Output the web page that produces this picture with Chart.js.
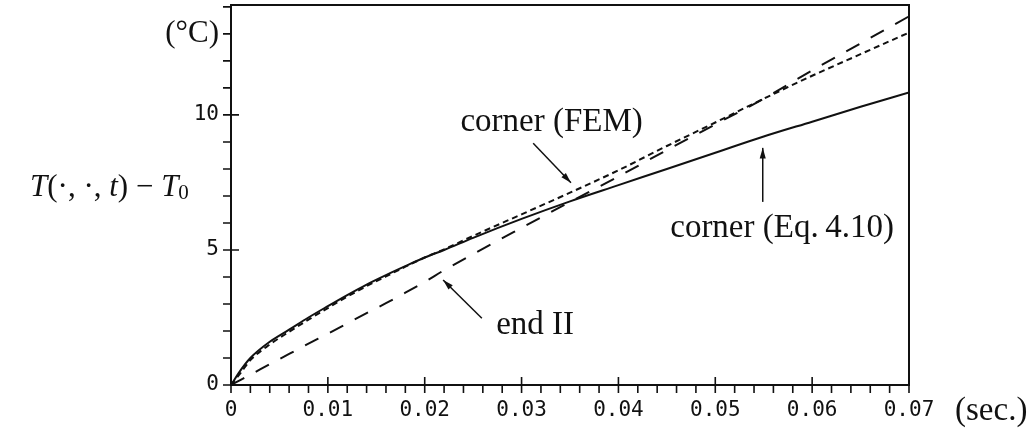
<!DOCTYPE html>
<html>
<head>
<meta charset="utf-8">
<script src="https://cdn.jsdelivr.net/npm/chart.js@4.4.1/dist/chart.umd.min.js"></script>
<style>
  html, body { margin: 0; padding: 0; background: #fff; }
  #wrap { width: 1034px; height: 428px; }
</style>
</head>
<body>
<div id="wrap"><canvas id="grafico"></canvas></div>
<script>
// DATOS (tiempo en segundos, temperatura en °C)
const tiempos = [0, 0.001, 0.002, 0.004, 0.006, 0.008, 0.010, 0.012, 0.014, 0.016, 0.018,
  0.020, 0.022, 0.025, 0.030, 0.035, 0.040, 0.045, 0.050, 0.055, 0.060, 0.065, 0.070];
const cornerEq = [0, 0.55, 1.0, 1.6, 2.05, 2.5, 2.92, 3.33, 3.72, 4.07, 4.4,
  4.72, 5.0, 5.45, 6.15, 6.8, 7.4, 8.0, 8.6, 9.2, 9.75, 10.3, 10.83];
const cornerFEM = [0, 0.45, 0.92, 1.5, 1.97, 2.42, 2.85, 3.27, 3.66, 4.02, 4.38,
  4.72, 5.02, 5.52, 6.32, 7.12, 7.95, 8.85, 9.72, 10.6, 11.45, 12.25, 13.05];
const endII = [0, 0.19, 0.38, 0.77, 1.15, 1.53, 1.9, 2.28, 2.66, 3.03, 3.42,
  3.82, 4.25, 4.85, 5.82, 6.78, 7.72, 8.7, 9.65, 10.6, 11.65, 12.65, 13.65];

// marcas de los ejes
const xMarcas = [0, 0.01, 0.02, 0.03, 0.04, 0.05, 0.06, 0.07];
const yMarcas = [0, 5, 10, 13];
const yUnidad = 13; // la marca 13 lleva la etiqueta "(°C)"

const MONO = "'DejaVu Sans Mono', monospace";
const SERIF = "'Liberation Serif', serif";

/**
 * Etiquetas con flecha, en coordenadas de datos
 */
const notas = [
  { texto: "corner (FEM)", tx: 0.0331, ty: 9.74, x1: 0.0312, y1: 8.95, x2: 0.0351, y2: 7.49 },
  { texto: "corner (Eq.\u20094.10)", tx: 0.0569, ty: 5.81, x1: 0.0549, y1: 6.78, x2: 0.0549, y2: 8.78 },
  { texto: "end II", tx: 0.0314, ty: 2.22, x1: 0.0259, y1: 2.47, x2: 0.0219, y2: 3.89 },
];

function puntos(valores) {
  return tiempos.map((t, i) => ({ x: t, y: valores[i] }));
}

function flecha(ctx, x1, y1, x2, y2) {
  const ang = Math.atan2(y2 - y1, x2 - x1);
  ctx.beginPath();
  ctx.moveTo(x1, y1);
  ctx.lineTo(x2, y2);
  ctx.stroke();
  ctx.beginPath();
  ctx.moveTo(x2, y2);
  ctx.lineTo(x2 - 11 * Math.cos(ang - 0.28), y2 - 11 * Math.sin(ang - 0.28));
  ctx.lineTo(x2 - 11 * Math.cos(ang + 0.28), y2 - 11 * Math.sin(ang + 0.28));
  ctx.closePath();
  ctx.fill();
}

// marco, marcas menores y textos
const marcas = {
  id: "marcas",
  afterDraw(chart) {
    const ctx = chart.ctx;
    const a = chart.chartArea;
    const sx = chart.scales.x;
    const sy = chart.scales.y;
    ctx.save();
    ctx.strokeStyle = "#111";
    ctx.fillStyle = "#111";
    ctx.lineWidth = 2;
    ctx.strokeRect(a.left, a.top, a.right - a.left, a.bottom - a.top);

    ctx.lineWidth = 1.6;
    ctx.beginPath();
    for (let i = 0; i <= 35; i++) {
      const px = sx.getPixelForValue(i * 0.002);
      const mayor = i % 5 === 0;
      ctx.moveTo(px, mayor ? a.bottom - 8 : a.bottom);
      ctx.lineTo(px, a.bottom + 8);
    }
    for (let v = 0; v <= 14; v++) {
      const py = sy.getPixelForValue(v);
      const mayor = v % 5 === 0;
      ctx.moveTo(a.left - 8, py);
      ctx.lineTo(mayor ? a.left + 8 : a.left, py);
    }
    ctx.stroke();

    // notas con flecha
    ctx.font = "33px " + SERIF;
    ctx.textAlign = "center";
    ctx.textBaseline = "middle";
    ctx.lineWidth = 1.5;
    notas.forEach((n) => {
      ctx.fillText(n.texto, sx.getPixelForValue(n.tx), sy.getPixelForValue(n.ty));
      flecha(ctx, sx.getPixelForValue(n.x1), sy.getPixelForValue(n.y1),
        sx.getPixelForValue(n.x2), sy.getPixelForValue(n.y2));
    });

    // unidades del eje x
    ctx.textAlign = "left";
    ctx.fillText("(sec.)", a.right + 46, a.bottom + 26);

    // título del eje y: T(·,·,t) − T0
    let x = 30;
    const y = sy.getPixelForValue(7.3);
    const partes = [
      ["italic 31px " + SERIF, "T", 0],
      ["31px " + SERIF, "(\u00b7, \u00b7, ", 0],
      ["italic 31px " + SERIF, "t", 0],
      ["31px " + SERIF, ") \u2212 ", 0],
      ["italic 31px " + SERIF, "T", 0],
      ["21px " + SERIF, "0", 6],
    ];
    partes.forEach(([f, s, dy]) => {
      ctx.font = f;
      ctx.fillText(s, x, y + dy);
      x += ctx.measureText(s).width;
    });
    ctx.restore();
  },
};

document.addEventListener("DOMContentLoaded", function () {
  const ctx = document.getElementById("grafico").getContext("2d");

  new Chart(ctx, {
    type: "line",
    data: {
      datasets: [
        {
          label: "corner (Eq. 4.10)",
          data: puntos(cornerEq),
          borderColor: "#111",
          borderWidth: 2,
        },
        {
          label: "corner (FEM)",
          data: puntos(cornerFEM),
          borderColor: "#111",
          borderWidth: 2,
          borderDash: [6, 4],
        },
        {
          label: "end II",
          data: puntos(endII),
          borderColor: "#111",
          borderWidth: 2,
          borderDash: [15, 13],
        },
      ],
    },
    options: {
      responsive: true,
      maintainAspectRatio: false,
      animation: false,
      events: [],
      elements: {
        point: { radius: 0 },
        line: { cubicInterpolationMode: "monotone" },
      },
      layout: { padding: { top: 5, right: 125, left: 0, bottom: 0 } },
      plugins: {
        legend: { display: false },
        tooltip: { enabled: false },
      },
      scales: {
        x: {
          type: "linear",
          min: 0,
          max: 0.07,
          afterFit: (s) => {
            s.height = 43;
            s.paddingLeft = 0;
            s.paddingRight = 0;
          },
          afterBuildTicks: (s) => { s.ticks = xMarcas.map((v) => ({ value: v })); },
          grid: { display: false, drawTicks: false },
          border: { display: false },
          ticks: {
            autoSkip: false,
            maxRotation: 0,
            padding: 13,
            color: "#111",
            font: { family: MONO, size: 21 },
            callback: (v) => (v === 0 ? "0" : v.toFixed(2)),
          },
        },
        y: {
          min: 0,
          max: 14.07,
          afterFit: (s) => {
            s.width = 231;
            s.paddingTop = 0;
            s.paddingBottom = 0;
          },
          afterBuildTicks: (s) => { s.ticks = yMarcas.map((v) => ({ value: v })); },
          grid: { display: false, drawTicks: false },
          border: { display: false },
          ticks: {
            padding: 12,
            color: "#111",
            font: (c) => (c.tick && c.tick.value === yUnidad
              ? { family: SERIF, size: 31 }
              : { family: MONO, size: 21 }),
            callback: (v) => (v === yUnidad ? "(\u00b0C)" : String(v)),
          },
        },
      },
    },
    plugins: [marcas],
  });
});
</script>
</body>
</html>
